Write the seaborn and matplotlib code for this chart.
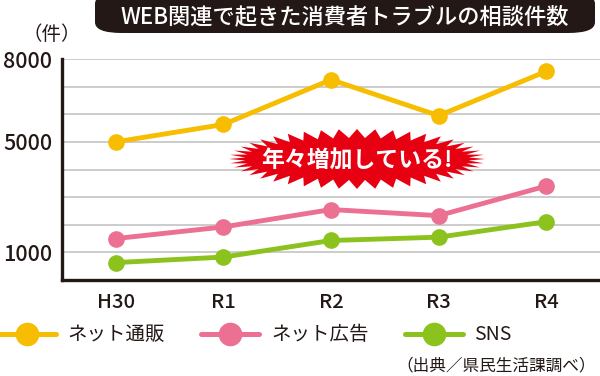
import numpy as np
import pandas as pd
import matplotlib
matplotlib.use("Agg")
import matplotlib.pyplot as plt
from matplotlib.lines import Line2D
from matplotlib.patches import FancyBboxPatch, Polygon
import seaborn as sns

# data
years = ["H30", "R1", "R2", "R3", "R4"]
series_names = ["ネット通販", "ネット広告", "SNS"]
net_shopping = [5000, 5630, 7250, 5950, 7550]
net_ads = [1500, 1920, 2550, 2330, 3400]
sns_counts = [630, 830, 1430, 1550, 2110]
y_ticks = [1000, 2000, 3000, 4000, 5000, 6000, 7000, 8000]
y_tick_labels = ["1000", "", "", "", "5000", "", "", "8000"]
colors = ["#F7BD00", "#EB7092", "#8CC21E"]

title = "WEB関連で起きた消費者トラブルの相談件数"
unit_label = "（件）"
callout = "年々増加している!"
source = "（出典／県民生活課調べ）"

sns.set_style("white")
plt.rcParams["font.family"] = ["Noto Sans CJK JP", "DejaVu Sans"]
ink = "#231815"

df = pd.DataFrame({
    "year": years * 3,
    "count": net_shopping + net_ads + sns_counts,
    "series": [s for s in series_names for _ in years],
})

fig = plt.figure(figsize=(6, 3.76), dpi=100)
ax = fig.add_axes([62 / 600, 1 - 280 / 376, 1 - 62 / 600, (280 - 59) / 376])

sns.lineplot(data=df, x="year", y="count", hue="series", palette=colors,
             marker="o", markersize=12, markeredgewidth=0, linewidth=3.5,
             legend=False, ax=ax, zorder=3)

ax.set_xlim(-0.5, 4.5)
ax.set_ylim(0, 8000)
ax.set_yticks(y_ticks)
ax.set_yticklabels(y_tick_labels)
ax.set_xlabel("")
ax.set_ylabel("")
for y in y_ticks:
    ax.axhline(y, color="#c8c8c8", lw=1.3, zorder=1)

for s in ["top", "right"]:
    ax.spines[s].set_visible(False)
for s in ["left", "bottom"]:
    ax.spines[s].set_linewidth(2.4)
    ax.spines[s].set_color(ink)
ax.tick_params(axis="y", direction="in", length=10, width=2.4, color=ink,
               pad=7, labelsize=15.5, labelcolor=ink)
ax.tick_params(axis="x", length=0, pad=9, labelsize=14.5, labelcolor=ink)
for lbl in ax.get_xticklabels() + ax.get_yticklabels():
    lbl.set_fontweight("medium")

# title pill
pill = FancyBboxPatch((95 / 600, 1 - 33 / 376), 500 / 600, 40 / 376,
                      boxstyle="round,pad=0,rounding_size=0.045",
                      transform=fig.transFigure, facecolor=ink,
                      edgecolor="none", mutation_aspect=376 / 600)
fig.patches.append(pill)
fig.text(345 / 600, 1 - 17 / 376, title, color="white", fontsize=16,
         fontweight="medium", ha="center", va="center")

fig.text(52 / 600, 1 - 35 / 376, unit_label, fontsize=14, color=ink,
         ha="center", va="center")

# red starburst callout
cx, cy = 357, 159
n = 44
ang = np.linspace(0, 2 * np.pi, 2 * n, endpoint=False)
rx = np.where(np.arange(2 * n) % 2 == 0, 128, 112)
ry = np.where(np.arange(2 * n) % 2 == 0, 30, 21)
px = (cx + rx * np.cos(ang)) / 600
py = 1 - (cy + ry * np.sin(ang)) / 376
burst = Polygon(np.column_stack([px, py]), closed=True, transform=fig.transFigure,
                facecolor="#E60012", edgecolor="none", zorder=5)
fig.patches.append(burst)
fig.text(cx / 600, 1 - 161 / 376, callout, color="white", fontsize=16.5,
         fontweight="bold", ha="center", va="center", zorder=6)

# legend
handles = [Line2D([0], [0], color=c, lw=3.6, marker="o", markersize=17,
                  markeredgewidth=0) for c in colors]
fig.legend(handles, series_names, loc="center left",
           bbox_to_anchor=(-0.017, 1 - 335 / 376), ncol=3, frameon=False,
           fontsize=14, handlelength=3.0, handletextpad=0.6,
           columnspacing=1.85, labelcolor=ink, borderaxespad=0)

fig.text(596 / 600, 1 - 366 / 376, source, fontsize=12, color=ink,
         ha="right", va="center")

fig.savefig("out.png", dpi=100)
